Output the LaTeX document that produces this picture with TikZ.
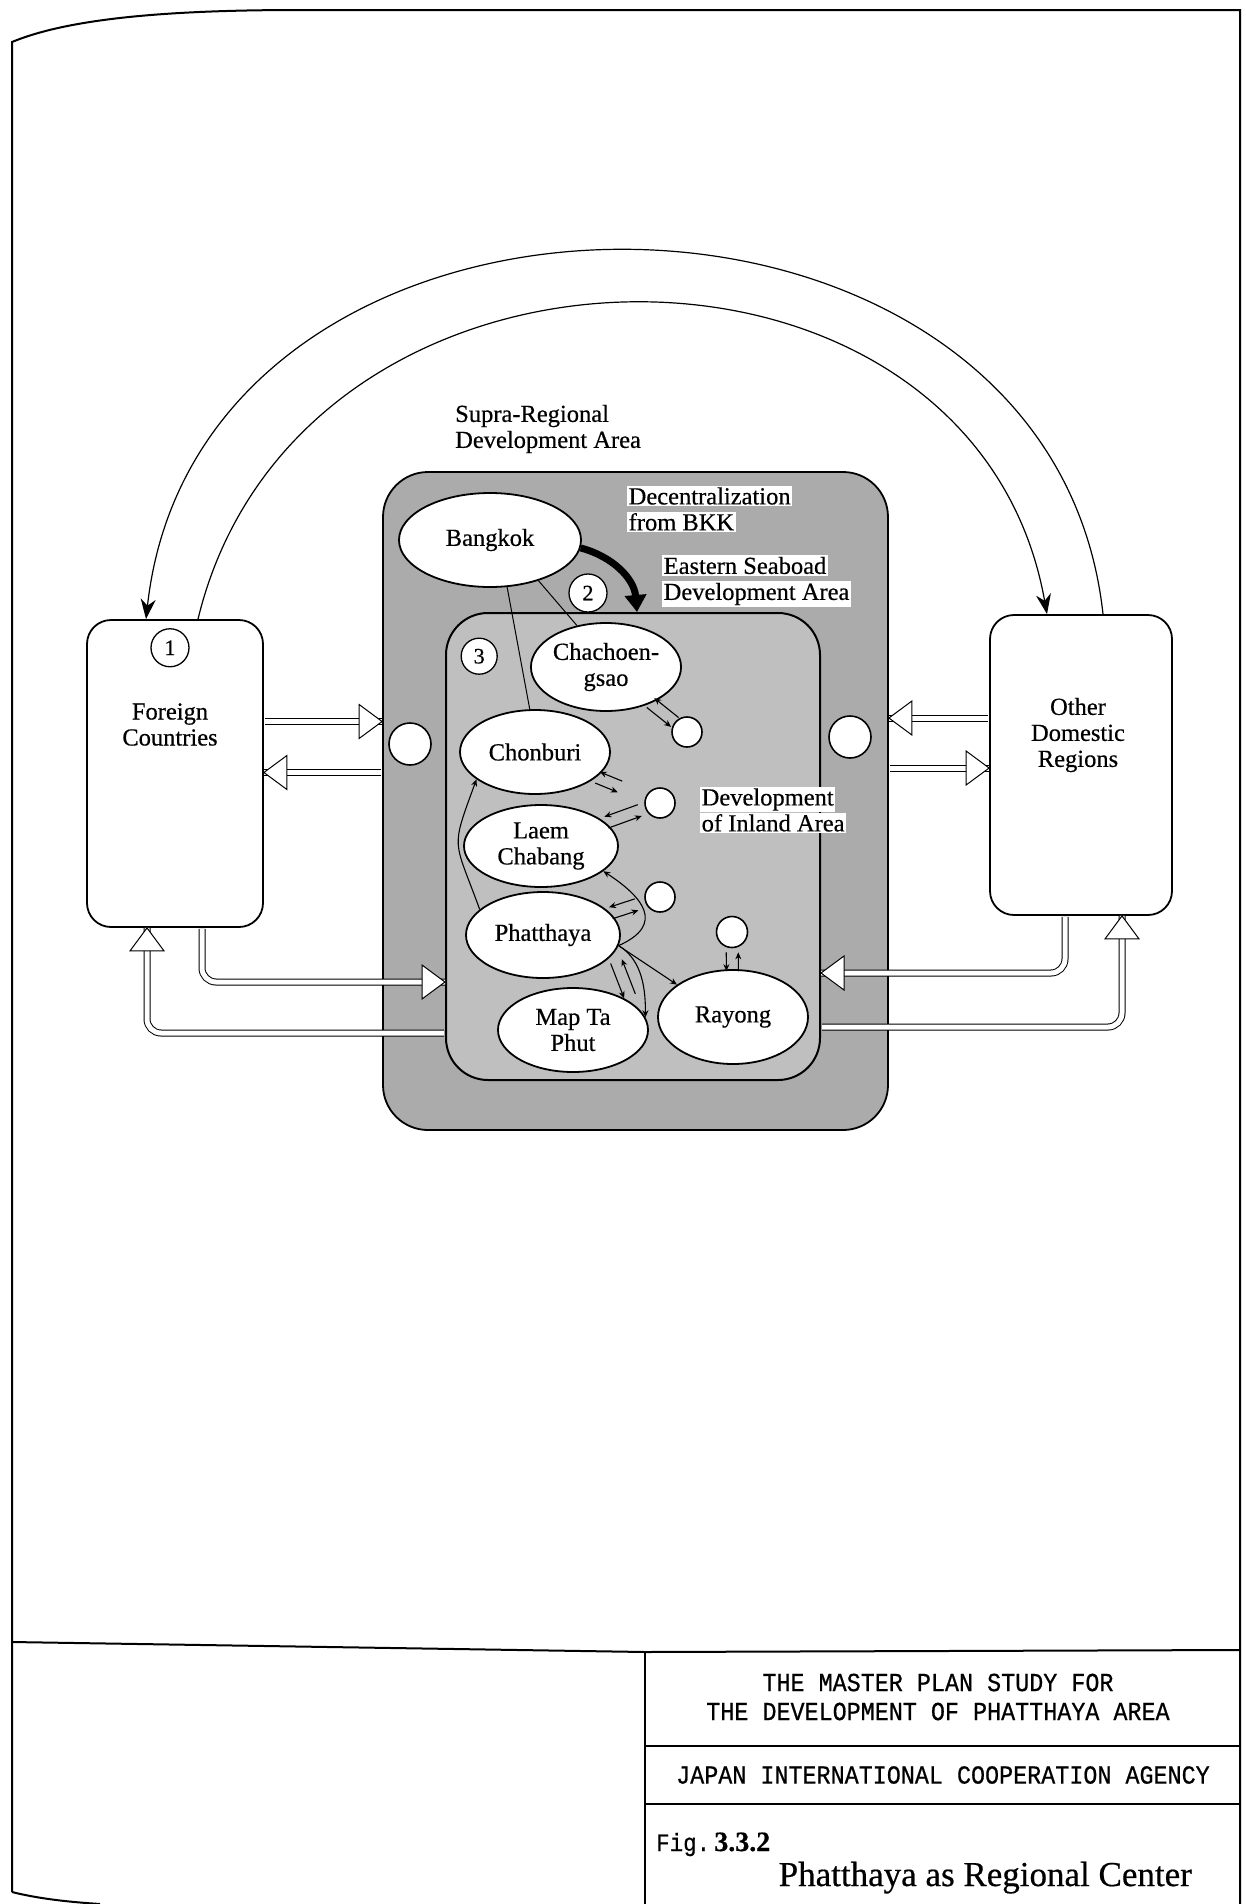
\documentclass[tikz,border=0pt]{standalone}
\usepackage{fontspec}
\setmainfont{Liberation Serif}[FakeBold=0.5]
\newfontfamily\typewr{Liberation Mono}[FakeBold=0.6,FakeStretch=0.9]
\usepackage{xcolor}
\usetikzlibrary{arrows.meta,calc,positioning,shapes.geometric}
\setlength{\fboxsep}{1.5pt}
\newcommand{\wb}[1]{\colorbox{white}{#1}}
\newcommand{\openhead}[2]{\draw[fill=white,line width=1pt,shift={(#1)},rotate=#2] (0,0) -- (-23,17) -- (-23,-17) -- cycle;}
\newcommand{\twoway}[4]{\draw[small] ($(#1)!#3!(#2)!6pt!-90:(#2)$) -- ($(#1)!#4!(#2)!6pt!-90:(#2)$);
  \draw[small] ($(#1)!#4!(#2)!6pt!90:(#2)$) -- ($(#1)!#3!(#2)!6pt!90:(#2)$);}

\begin{document}
\begin{tikzpicture}[x=1pt,y=1pt,font=\fontsize{24.5}{26}\selectfont,
    region/.style={draw,line width=1.8pt,rounded corners=24pt,fill=white},
    city/.style={draw,ellipse,fill=white,line width=1.8pt,inner sep=0pt,align=center},
    dot/.style={draw,circle,fill=white,line width=1.6pt,inner sep=0pt},
    num/.style={draw,circle,fill=white,line width=1.3pt,inner sep=0pt,minimum size=38pt,font=\fontsize{22}{22}\selectfont},
    lbl/.style={align=left,inner sep=0pt,anchor=west},
    titletext/.style={align=center,inner sep=0pt,font=\typewr\fontsize{26}{29}\selectfont},
    hollow/.style={double,double distance=5pt,line width=1pt,rounded corners=14pt,shorten <=1pt},
    flow/.style={-{Stealth[length=20pt,width=15pt]},line width=1.2pt},
    small/.style={-{Stealth[length=7pt,width=6pt]},line width=1.1pt},
    link/.style={line width=1pt}]
  \useasboundingbox (0,0) rectangle (1246,-1904);

  \draw[line width=2pt] (12,-1892) -- (12,-42) .. controls (70,-18) and (170,-10) .. (300,-10) -- (1240,-10) -- (1240,-1904);
  \draw[line width=2pt] (12,-1892) .. controls (40,-1899) and (70,-1902) .. (100,-1904);
  \draw[line width=2pt] (12,-1642) -- (645,-1652) -- (1240,-1650);
  \draw[line width=2pt] (645,-1652) -- (645,-1904);
  \draw[line width=1.6pt] (645,-1746) -- (1240,-1746) (645,-1804) -- (1240,-1804);

  \node[region,fill=black!33,rounded corners=45pt,minimum width=505pt,minimum height=658pt] (supra) at (635.5,-801) {};
  \node[region,fill=black!25,rounded corners=42pt,line width=2pt,minimum width=374pt,minimum height=467pt] (esb) at (633,-846.5) {};
  \node[region,minimum width=176pt,minimum height=307pt] (foreign) at (175,-773.5) {};
  \node[region,minimum width=182pt,minimum height=300pt] (other) at (1081,-765) {};

  \coordinate (fo1) at ([yshift=52pt]foreign.east);
  \coordinate (fo2) at ([yshift=1pt]foreign.east);
  \coordinate (fo3) at ([xshift=27pt]foreign.south);
  \coordinate (fo4) at ([xshift=-28pt]foreign.south);
  \coordinate (ot1) at ([yshift=47pt]other.west);
  \coordinate (ot2) at ([yshift=-3pt]other.west);
  \coordinate (ot3) at ([xshift=-16pt]other.south);
  \coordinate (ot4) at ([xshift=41pt]other.south);
  \draw[hollow] (fo1) -- (fo1 -| supra.west);
  \draw[hollow] (fo2 -| supra.west) -- (fo2);
  \draw[hollow] (fo3) |- ([yshift=-135.5pt]esb.west);
  \draw[hollow] ([yshift=-186.5pt]esb.west) -| (fo4);
  \draw[hollow] (ot1) -- (ot1 -| supra.east);
  \draw[hollow] (ot2 -| supra.east) -- (ot2);
  \draw[hollow] (ot3) |- ([yshift=-126.5pt]esb.east);
  \draw[hollow] ([yshift=-180.5pt]esb.east) -| (ot4);
  \openhead{fo1 -| supra.west}{0}
  \openhead{fo2}{180}
  \openhead{[yshift=-135.5pt]esb.west}{0}
  \openhead{fo4}{90}
  \openhead{ot1 -| supra.east}{180}
  \openhead{ot2}{0}
  \openhead{[yshift=-126.5pt]esb.east}{180}
  \openhead{ot4}{90}

  \draw[flow] ([xshift=22pt]other.north) .. controls (1050,-129) and (200,-129) .. ([xshift=-29pt]foreign.north);
  \draw[flow] ([xshift=23pt]foreign.north) .. controls (300,-199) and (973,-199) .. ([xshift=-34pt]other.north);

  \node[align=center] (foreignlbl) at ([xshift=-5pt,yshift=49pt]foreign.center) {Foreign\\Countries};
  \node[align=center] (otherlbl) at ([xshift=-3pt,yshift=30pt]other.center) {Other\\Domestic\\Regions};
  \node[num,below=9pt of foreign.north,xshift=-5pt] (one) {1};
  \node[num] (two) at (588,-593) {2};
  \node[num,minimum size=36pt,below right=31pt and 21pt of esb.north west] (three) {3};

  \node[city,minimum width=182pt,minimum height=94pt] (bkk) at (490,-540) {Bangkok};
  \node[city,minimum width=148pt,minimum height=88pt] (chach) at (606,-667) {Chachoen-\\gsao};
  \node[city,minimum width=150pt,minimum height=84pt] (chon) at (535,-752) {Chonburi};
  \node[city,minimum width=154pt,minimum height=82pt] (laem) at (541,-846) {Laem\\Chabang};
  \node[city,minimum width=154pt,minimum height=86pt] (phat) at (543,-935) {Phatthaya};
  \node[city,minimum width=150pt,minimum height=84pt] (map) at (573,-1030) {Map Ta\\Phut};
  \node[city,minimum width=150pt,minimum height=94pt] (ray) at (733,-1017) {Rayong};

  \node[dot,minimum size=42pt] (gateW) at (410,-744) {};
  \node[dot,minimum size=42pt] (gateE) at (850,-737) {};
  \node[dot,minimum size=30pt] (inA) at (687,-732) {};
  \node[dot,minimum size=30pt] (inB) at (660,-803) {};
  \node[dot,minimum size=30pt] (inC) at (660,-897) {};
  \node[dot,minimum size=31pt] (inD) at (732,-932) {};

  \node[lbl] (supralbl) at (455,-429) {Supra-Regional\\Development Area};
  \node[lbl] (declbl) at (627,-509) {\wb{Decentralization}\\\wb{from BKK}};
  \node[lbl] (esblbl) at (662,-581) {\wb{Eastern Seaboad}\\\wb{Development Area}};
  \node[lbl] (inlandlbl) at (700,-810) {\wb{Development}\\\wb{of Inland Area}};

  \draw[link] (bkk.-70) -- (chon.97);
  \draw[link] (bkk.-40) -- (chach.125);
  \draw[line width=7pt,-{Triangle[length=17pt,width=21pt]}] (bkk.-5) to[out=-15,in=95] ([xshift=4pt]esb.north);

  \draw[small] (phat.-8) .. controls +(47,21) and +(40,-26) .. (laem.-22);
  \draw[small] (phat.-8) -- (ray.150);
  \draw[small] (phat.-8) .. controls +(25,-15) and +(0,25) .. (map.10);
  \draw[small] (phat.158) to[out=110,in=-110,looseness=1.5] (chon.205);
  \twoway{chach}{inA}{0.55}{0.85}
  \twoway{chon}{inB}{0.5}{0.68}
  \twoway{laem}{inB}{0.55}{0.83}
  \twoway{phat}{inC}{0.58}{0.8}
  \twoway{inD}{ray}{0.24}{0.46}
  \twoway{phat.-15}{map.24}{0.15}{0.85}

  \node[titletext] (study) at (938,-1697) {THE MASTER PLAN STUDY FOR\\THE DEVELOPMENT OF PHATTHAYA AREA};
  \node[titletext] (jica) at (943,-1775) {JAPAN INTERNATIONAL COOPERATION AGENCY};
  \node[anchor=base west,inner sep=0pt] (fig) at (656,-1851) {{\typewr\fontsize{25}{25}\selectfont Fig.}\,{\fontsize{28}{28}\selectfont\bfseries 3.3.2}};
  \node[anchor=base east,inner sep=0pt,font=\fontsize{35}{35}\selectfont] (caption) at (1192,-1886) {Phatthaya as Regional Center};
\end{tikzpicture}
\end{document}
